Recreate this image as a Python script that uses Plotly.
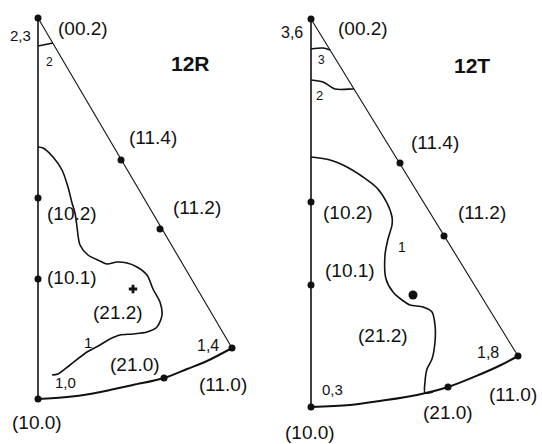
import plotly.graph_objects as go

# ---- 12R inverse pole figure (local coordinates, origin at (10.0)) ----
r_pole_names = ["(00.2)", "(10.2)", "(10.1)", "(10.0)", "(11.4)", "(11.2)", "(11.0)", "(21.0)"]
r_pole_x = [0, 0, 0, 0, 83, 122, 194, 126]
r_pole_y = [381, 201, 120, 0, 239, 170, 51, 21]
r_212 = (95, 110)

r_arc_x = [0, 29, 52, 72, 95, 126, 149, 169, 194]
r_arc_y = [0, 2, 5, 9, 14, 21, 30, 38, 51]

r_c1_x = [0, 5, 15, 24, 30, 34, 37, 39, 42, 50, 62, 69, 79, 89, 99, 109, 115, 122, 124,
          119, 109, 95, 82, 72, 62, 49, 32, 20, 14]
r_c1_y = [252, 251, 242, 229, 212, 196, 186, 172, 154, 144, 138, 135, 137, 136, 132, 124,
          110, 97, 84, 72, 67, 65, 64, 60, 54, 47, 34, 25, 24]
r_c2_x = [0, 15]
r_c2_y = [353, 356]

r_labels = [
    ("2,3", -18, 364, 15, False), ("(00.2)", 45, 371, 19, False), ("2", 11, 337, 12, False),
    ("12R", 152, 336, 21, True), ("(11.4)", 115, 262, 19, False), ("(11.2)", 159, 192, 19, False),
    ("(10.2)", 34, 186, 19, False), ("(10.1)", 34, 122, 19, False), ("(21.2)", 80, 87, 19, False),
    ("1", 50, 57, 15, False), ("(21.0)", 97, 35, 19, False), ("1,0", 27, 17, 15, False),
    ("1,4", 170, 54, 16, False), ("(11.0)", 185, 15, 19, False), ("(10.0)", -1, -23, 19, False),
]

# ---- 12T inverse pole figure ----
t_pole_x = [0, 0, 0, 0, 89, 133, 207, 137]
t_pole_y = [388, 205, 122, 0, 244, 171, 51, 20]
t_212 = (102, 112)

t_arc_x = [0, 39, 69, 106, 137, 170, 190, 207]
t_arc_y = [0, 2, 6, 12, 20, 33, 42, 51]

t_c1_x = [0, 19, 36, 52, 66, 76, 81, 81, 77, 74, 75, 82, 91, 99, 112, 121, 124, 124, 121,
          116, 114, 114, 122]
t_c1_y = [250, 247, 240, 230, 219, 204, 190, 182, 168, 152, 128, 115, 107, 102, 100, 95,
          82, 65, 48, 38, 25, 14, 15]
t_c2_x = [0, 12, 24, 41, 43]
t_c2_y = [327, 325, 318, 318, 318]
t_c3_x = [0, 12, 19]
t_c3_y = [358, 359, 357]

t_labels = [
    ("3,6", -19, 375, 16, False), ("(00.2)", 52, 379, 19, False), ("3", 10, 347, 12, False),
    ("2", 8, 312, 13, False), ("12T", 161, 342, 21, True), ("(11.4)", 124, 265, 19, False),
    ("(11.2)", 171, 195, 19, False), ("(10.2)", 37, 195, 19, False), ("1", 91, 160, 14, False),
    ("(10.1)", 39, 137, 19, False), ("(21.2)", 72, 72, 19, False), ("1,8", 177, 55, 16, False),
    ("0,3", 21, 18, 15, False), ("(21.0)", 137, -5, 19, False), ("(11.0)", 202, 13, 19, False),
    ("(10.0)", -1, -25, 19, False),
]

INK = "#111111"
FONT = "Liberation Sans, Arial, sans-serif"
fig = go.Figure()


def add_panel(xa, ya, px, py, arc_x, arc_y, contours, p212, labels, mark212):
    line = dict(color=INK, width=1.6)
    # left edge (00.2)-(10.0)
    fig.add_trace(go.Scatter(x=[px[0], px[3]], y=[py[0], py[3]], mode="lines", line=line,
                             xaxis=xa, yaxis=ya, hoverinfo="skip"))
    # (00.2)-(11.0) edge
    fig.add_trace(go.Scatter(x=[px[0], px[6]], y=[py[0], py[6]], mode="lines",
                             line=dict(color=INK, width=1.1), xaxis=xa, yaxis=ya, hoverinfo="skip"))
    # (10.0)-(11.0) arc
    fig.add_trace(go.Scatter(x=arc_x, y=arc_y, mode="lines", line=dict(color=INK, width=2, shape="spline"),
                             xaxis=xa, yaxis=ya, hoverinfo="skip"))
    for cx, cy in contours:
        fig.add_trace(go.Scatter(x=cx, y=cy, mode="lines",
                                 line=dict(color=INK, width=1.6, shape="spline", smoothing=0.8),
                                 xaxis=xa, yaxis=ya, hoverinfo="skip"))
    fig.add_trace(go.Scatter(x=px, y=py, mode="markers", marker=dict(color=INK, size=7),
                             xaxis=xa, yaxis=ya, hoverinfo="skip"))
    fig.add_trace(go.Scatter(x=[p212[0]], y=[p212[1]], mode="markers",
                             marker=dict(color=INK, size=mark212[0], symbol=mark212[1],
                                         line=dict(width=0)),
                             xaxis=xa, yaxis=ya, hoverinfo="skip"))
    for txt, lx, ly, size, bold in labels:
        fig.add_annotation(x=lx, y=ly, xref=xa, yref=ya, text=f"<b>{txt}</b>" if bold else txt,
                           showarrow=False, xanchor="center", yanchor="middle",
                           font=dict(family=FONT, size=size, color=INK))


add_panel("x", "y", r_pole_x, r_pole_y, r_arc_x, r_arc_y,
          [(r_c1_x, r_c1_y), (r_c2_x, r_c2_y)], r_212, r_labels, (7, "cross"))
add_panel("x2", "y2", t_pole_x, t_pole_y, t_arc_x, t_arc_y,
          [(t_c1_x, t_c1_y), (t_c2_x, t_c2_y), (t_c3_x, t_c3_y)], t_212, t_labels, (9, "circle"))

hidden = dict(visible=False, showgrid=False, zeroline=False, fixedrange=True)
fig.update_layout(
    width=542, height=444, margin=dict(l=0, r=0, t=0, b=0),
    paper_bgcolor="white", plot_bgcolor="white", showlegend=False,
    xaxis=dict(domain=[0, 0.5], range=[-38, 233], **hidden),
    yaxis=dict(domain=[0, 1], range=[-45, 399], **hidden),
    xaxis2=dict(domain=[0.5, 1], range=[-40, 231], anchor="y2", **hidden),
    yaxis2=dict(domain=[0, 1], range=[-37, 407], anchor="x2", **hidden),
)

fig.write_html("out.html")
